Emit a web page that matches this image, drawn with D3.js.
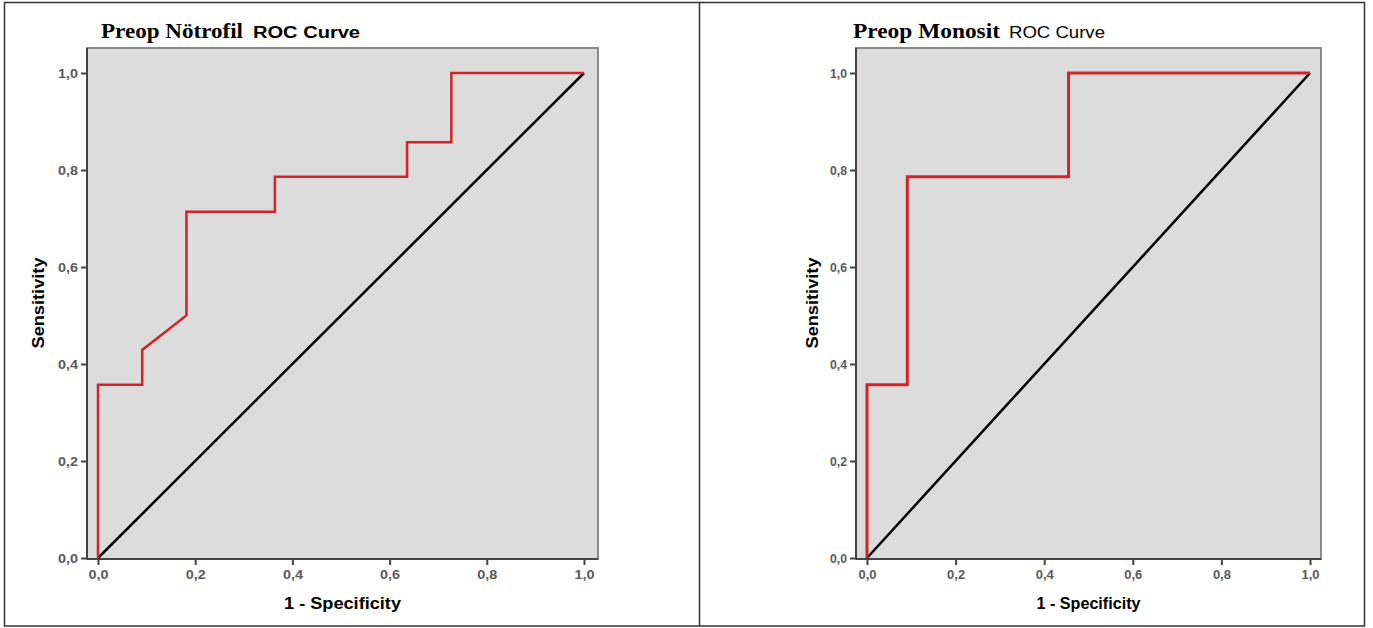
<!DOCTYPE html>
<html>
<head>
<meta charset="utf-8">
<script src="https://cdn.jsdelivr.net/npm/d3@7"></script>
<style>
    body { margin: 0; background: #fff; }
    svg { display: block; }
</style>
</head>
<body>
<div id="grafik"></div>
<script>
// Eksen değerleri
const tikDegerleri = [0, 0.2, 0.4, 0.6, 0.8, 1.0];
const tikEtiketleri = ["0,0", "0,2", "0,4", "0,6", "0,8", "1,0"];

// Preop Nötrofil ROC eğrisi (1 - özgüllük, duyarlılık)
const notrofilFpr = [0, 0, 0.091, 0.091, 0.182, 0.182, 0.364, 0.364, 0.636, 0.636, 0.727, 0.727, 1];
const notrofilTpr = [0, 0.357, 0.357, 0.429, 0.5, 0.714, 0.714, 0.786, 0.786, 0.857, 0.857, 1, 1];

// Preop Monosit ROC eğrisi
const monositFpr = [0, 0, 0.091, 0.091, 0.455, 0.455, 1];
const monositTpr = [0, 0.357, 0.357, 0.786, 0.786, 1, 1];

// Referans çizgisi
const referans = [0, 1];

const basliklar = ["Preop Nötrofil", "Preop Monosit"];

const width = 1373;
const height = 628;

const svg = d3.select("#grafik")
    .append("svg")
    .attr("width", width)
    .attr("height", height);

// Dış çerçeve ve ayırıcı
svg.append("rect")
    .attr("x", 4.5).attr("y", 2.5)
    .attr("width", 1360).attr("height", 623.5)
    .attr("fill", "none").attr("stroke", "#333").attr("stroke-width", 1.5);
svg.append("line")
    .attr("x1", 699.5).attr("x2", 699.5).attr("y1", 2.5).attr("y2", 626)
    .attr("stroke", "#333").attr("stroke-width", 1.5);

function yazi(g, metin, x, y, o) {
    return g.append("text")
        .attr("x", x).attr("y", y)
        .attr("font-family", o.serif ? "'Liberation Serif', 'Times New Roman', serif" : "'Liberation Sans', Arial, sans-serif")
        .attr("font-size", o.boyut)
        .attr("font-weight", o.kalin ? "bold" : "normal")
        .attr("fill", o.renk || "#000")
        .attr("text-anchor", o.hiza || "start")
        .attr("textLength", o.uzunluk)
        .attr("lengthAdjust", "spacingAndGlyphs")
        .attr("transform", o.dondur ? `rotate(-90, ${x}, ${y})` : null)
        .text(metin);
}

function cizPanel(p) {
    const x = d3.scaleLinear().domain([0, 1]).range([p.x0, p.x1]);
    const y = d3.scaleLinear().domain([0, 1]).range([558, 73]);
    const g = svg.append("g");

    // Çizim alanı
    g.append("rect")
        .attr("x", p.sol).attr("y", 48)
        .attr("width", p.sag - p.sol).attr("height", 559 - 48)
        .attr("fill", "#dcdcdc")
        .attr("stroke", "#8a8a8a").attr("stroke-width", 2);
    g.append("line")
        .attr("x1", p.sol).attr("x2", p.sol).attr("y1", 48).attr("y2", 559)
        .attr("stroke", "#444").attr("stroke-width", 2);
    g.append("line")
        .attr("x1", p.sol).attr("x2", p.sag).attr("y1", 559).attr("y2", 559)
        .attr("stroke", "#444").attr("stroke-width", 2);

    // Eksenler
    const xEkseni = g.append("g")
        .attr("transform", "translate(0, 559)")
        .call(d3.axisBottom(x).tickValues(tikDegerleri)
            .tickFormat((d, i) => tikEtiketleri[i]).tickSize(6).tickPadding(5));
    const yEkseni = g.append("g")
        .attr("transform", `translate(${p.sol}, 0)`)
        .call(d3.axisLeft(y).tickValues(tikDegerleri)
            .tickFormat((d, i) => tikEtiketleri[i]).tickSize(6).tickPadding(3));

    [xEkseni, yEkseni].forEach(e => {
        e.select(".domain").remove();
        e.selectAll(".tick line").attr("stroke", "#444").attr("stroke-width", 2);
        e.selectAll(".tick text")
            .attr("font-family", "'Liberation Sans', Arial, sans-serif")
            .attr("font-size", 13)
            .attr("font-weight", "bold")
            .attr("fill", "#5a5a5a")
            .attr("lengthAdjust", "spacingAndGlyphs");
    });
    xEkseni.selectAll(".tick text").attr("textLength", p.xTikGenislik);
    yEkseni.selectAll(".tick text").attr("textLength", p.yTikGenislik);

    // Referans çizgisi
    g.append("line")
        .attr("x1", x(referans[0])).attr("y1", y(referans[0]))
        .attr("x2", x(referans[1])).attr("y2", y(referans[1]))
        .attr("stroke", "#000").attr("stroke-width", 2.5);

    // ROC eğrisi
    const cizgi = d3.line().x(d => x(d[0])).y(d => y(d[1]));
    g.append("path")
        .datum(d3.zip(p.fpr, p.tpr))
        .attr("d", cizgi)
        .attr("fill", "none")
        .attr("stroke", "#d2232a")
        .attr("stroke-width", p.kalinlik)
        .attr("stroke-linejoin", "miter");

    // Başlık
    yazi(g, p.baslik, p.baslikX, 38, { serif: true, kalin: true, boyut: 20, uzunluk: p.baslikUzunluk });
    yazi(g, "ROC Curve", p.rocX, 38, { kalin: p.rocKalin, boyut: 16, uzunluk: p.rocUzunluk });

    // Eksen başlıkları
    const orta = (p.sol + p.sag) / 2;
    yazi(g, "1 - Specificity", orta, 609, { kalin: true, boyut: 16, hiza: "middle", uzunluk: p.xBaslikUzunluk });
    yazi(g, "Sensitivity", p.yBaslikX, 303, { kalin: true, boyut: 16, hiza: "middle", uzunluk: 91, dondur: true });
}

cizPanel({
    baslik: basliklar[0], fpr: notrofilFpr, tpr: notrofilTpr,
    sol: 87, sag: 598, x0: 98, x1: 584, kalinlik: 2.5,
    baslikX: 101, baslikUzunluk: 142, rocX: 253, rocUzunluk: 107, rocKalin: true,
    xBaslikUzunluk: 117, yBaslikX: 44, xTikGenislik: 20, yTikGenislik: 20
});

cizPanel({
    baslik: basliklar[1], fpr: monositFpr, tpr: monositTpr,
    sol: 856, sag: 1321, x0: 867, x1: 1310, kalinlik: 3,
    baslikX: 853, baslikUzunluk: 147, rocX: 1009, rocUzunluk: 96, rocKalin: false,
    xBaslikUzunluk: 104, yBaslikX: 818, xTikGenislik: 18, yTikGenislik: 17
});
</script>
</body>
</html>
